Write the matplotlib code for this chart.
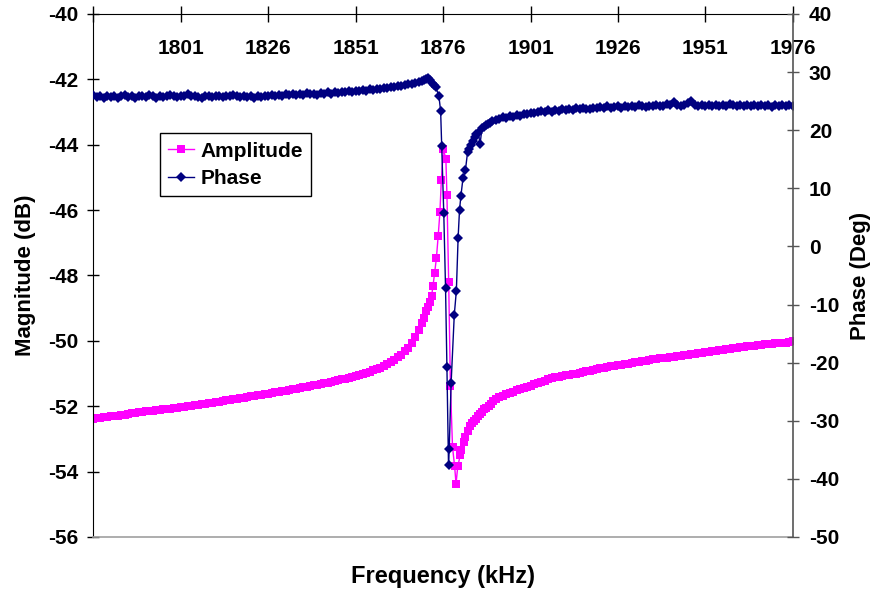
import numpy as np
import matplotlib
matplotlib.use('Agg')
import matplotlib.pyplot as plt

plt.rcParams['font.family'] = ['Liberation Sans', 'DejaVu Sans']
plt.rcParams['font.weight'] = 'bold'
plt.rcParams['axes.unicode_minus'] = False

# Frequency grid (kHz): 1 kHz steps away from resonance, measured points near it
freq_low = np.arange(1776, 1870)
freq_high = np.arange(1891, 1977)

amp_freq_res = [1870, 1870.6, 1871.2, 1871.7, 1872.2, 1872.7, 1873.1, 1873.6, 1874.1, 1874.6,
                1875.1, 1875.5, 1876.1, 1876.8, 1877.1, 1877.6, 1878.1, 1878.7, 1879.3, 1879.7,
                1880.2, 1880.9, 1881.2, 1881.9, 1882.4, 1883.0, 1883.6, 1884.2, 1884.8, 1885.4,
                1886.0, 1886.6, 1887.2, 1887.8, 1888.4, 1889.0, 1889.6, 1890.2]
phase_freq_res = [1870, 1870.6, 1871.2, 1871.8, 1872.3, 1872.8, 1873.3, 1873.9, 1874.8, 1875.3,
                  1875.6, 1876.2, 1876.7, 1877.1, 1877.55, 1877.75, 1878.3, 1879.2, 1879.8, 1880.3,
                  1880.7, 1881.1, 1881.7, 1882.4, 1883.0, 1883.5, 1884.0, 1884.5, 1885.0, 1885.5,
                  1886.0, 1886.6, 1887.1, 1887.6, 1888.2, 1888.8, 1889.4, 1890.0]

# Magnitude (dB)
amp_low = [-52.38, -52.36, -52.35, -52.34, -52.33, -52.31, -52.31, -52.29, -52.27, -52.26,
           -52.25, -52.22, -52.21, -52.19, -52.18, -52.16, -52.15, -52.14, -52.12, -52.11,
           -52.09, -52.08, -52.07, -52.05, -52.04, -52.02, -52.01, -52.00, -51.98, -51.97,
           -51.95, -51.94, -51.92, -51.90, -51.89, -51.87, -51.86, -51.84, -51.82, -51.81,
           -51.79, -51.77, -51.75, -51.74, -51.72, -51.70, -51.69, -51.67, -51.65, -51.63,
           -51.62, -51.60, -51.58, -51.56, -51.54, -51.52, -51.50, -51.48, -51.46, -51.44,
           -51.42, -51.40, -51.38, -51.36, -51.34, -51.32, -51.30, -51.28, -51.25, -51.23,
           -51.21, -51.18, -51.16, -51.13, -51.10, -51.07, -51.04, -51.01, -50.98, -50.94,
           -50.90, -50.86, -50.82, -50.77, -50.72, -50.66, -50.60, -50.50, -50.42, -50.32,
           -50.21, -50.06, -49.89, -49.68]
amp_res = [-49.45, -49.30, -49.10, -48.95, -48.80, -48.64, -48.33, -47.91, -47.46, -46.79,
           -46.06, -45.08, -44.14, -44.44, -45.53, -48.20, -51.37, -53.25, -53.84, -54.37,
           -53.84, -53.50, -53.33, -53.10, -52.93, -52.75, -52.62, -52.52, -52.45, -52.38,
           -52.31, -52.24, -52.17, -52.10, -52.04, -51.98, -51.92, -51.84]
amp_high = [-51.77, -51.72, -51.68, -51.64, -51.60, -51.55, -51.51, -51.47, -51.43, -51.40,
            -51.37, -51.33, -51.30, -51.26, -51.22, -51.18, -51.14, -51.12, -51.10, -51.08,
            -51.06, -51.04, -51.02, -51.00, -50.97, -50.95, -50.93, -50.91, -50.89, -50.86,
            -50.83, -50.82, -50.80, -50.78, -50.76, -50.75, -50.73, -50.71, -50.70, -50.68,
            -50.66, -50.64, -50.63, -50.61, -50.59, -50.57, -50.56, -50.54, -50.53, -50.51,
            -50.50, -50.48, -50.47, -50.45, -50.44, -50.42, -50.41, -50.40, -50.38, -50.37,
            -50.35, -50.34, -50.32, -50.31, -50.29, -50.28, -50.26, -50.25, -50.23, -50.22,
            -50.20, -50.19, -50.17, -50.16, -50.15, -50.14, -50.12, -50.11, -50.10, -50.09,
            -50.08, -50.08, -50.07, -50.06, -50.04, -50.00]

# Phase (deg)
phase_low = [26.0, 25.7, 25.8, 25.6, 25.9, 25.7, 25.8, 25.6, 25.8, 26.0,
             25.7, 25.9, 25.6, 25.8, 25.9, 25.7, 26.0, 25.8, 25.6, 25.9,
             25.7, 25.8, 26.1, 25.8, 25.7, 25.9, 25.8, 26.2, 25.8, 25.9,
             25.7, 25.5, 25.8, 25.9, 25.7, 25.9, 25.8, 25.7, 25.9, 25.8,
             26.0, 25.8, 25.7, 25.9, 25.7, 25.8, 25.6, 25.8, 25.7, 25.9,
             25.8, 26.0, 25.9, 26.1, 25.9, 26.2, 26.0, 26.2, 26.1, 26.3,
             26.1, 26.4, 26.2, 26.3, 26.1, 26.4, 26.3, 26.5, 26.3, 26.6,
             26.4, 26.6, 26.5, 26.7, 26.6, 26.8, 26.7, 26.9, 26.8, 27.0,
             26.9, 27.1, 27.0, 27.3, 27.2, 27.4, 27.5, 27.6, 27.6, 27.8,
             27.9, 28.0, 28.1, 28.3]
phase_res = [28.4, 28.6, 28.8, 28.9, 28.6, 28.1, 27.8, 27.4, 25.9, 23.3,
             17.3, 5.7, -7.1, -20.8, -37.6, -34.9, -23.5, -11.8, -7.6, 1.5,
             6.3, 8.7, 11.8, 13.2, 16.2, 16.8, 17.5, 18.2, 18.8, 19.3,
             19.6, 17.7, 20.3, 20.6, 20.9, 21.1, 21.3, 21.5]
phase_high = [21.7, 21.9, 22.2, 22.1, 22.4, 22.3, 22.6, 22.5, 22.8, 22.7,
              23.0, 22.9, 23.2, 23.3, 23.1, 23.4, 23.2, 23.5, 23.3, 23.6,
              23.4, 23.7, 23.5, 23.8, 23.6, 23.9, 23.7, 23.6, 23.9, 23.8,
              24.0, 23.8, 24.1, 23.9, 24.0, 24.2, 23.9, 24.1, 24.0, 24.2,
              24.0, 24.3, 24.1, 24.0, 24.2, 24.1, 24.3, 24.1, 24.2, 24.5,
              24.4, 24.9, 24.3, 24.2, 24.4, 24.6, 25.0, 24.3, 24.1, 24.3,
              24.2, 24.4, 24.1, 24.3, 24.2, 24.4, 24.2, 24.5, 24.3, 24.1,
              24.3, 24.2, 24.4, 24.1, 24.3, 24.2, 24.4, 24.1, 24.3, 24.0,
              24.3, 24.2, 24.4, 24.1, 24.3, 24.2]

freq_ticks = [1776, 1801, 1826, 1851, 1876, 1901, 1926, 1951, 1976]
freq_tick_labels = ['', '1801', '1826', '1851', '1876', '1901', '1926', '1951', '1976']
mag_ticks = [-40, -42, -44, -46, -48, -50, -52, -54, -56]
phase_ticks = [40, 30, 20, 10, 0, -10, -20, -30, -40, -50]

amp_freq = np.concatenate([freq_low, amp_freq_res, freq_high])
amp = np.concatenate([amp_low, amp_res, amp_high])
phase_freq = np.concatenate([freq_low, phase_freq_res, freq_high])
phase = np.concatenate([phase_low, phase_res, phase_high])

fig = plt.figure(figsize=(8.8, 5.91), dpi=100)
ax = fig.add_axes([0.106, 0.0914, 0.795, 0.885])
ax2 = ax.twinx()

l1, = ax.plot(amp_freq, amp, color='#FF00FF', lw=1, marker='s', markersize=5.8,
              markeredgewidth=0, label='Amplitude')
l2, = ax2.plot(phase_freq, phase, color='#000080', lw=1, marker='D', markersize=5,
               markeredgewidth=0, label='Phase')

ax.set_xlim(1776, 1976)
ax.set_ylim(-56, -40)
ax2.set_ylim(-50, 40)

ax.set_xticks(freq_ticks, labels=freq_tick_labels)
ax.set_yticks(mag_ticks)
ax2.set_yticks(phase_ticks)

ax.xaxis.set_ticks_position('top')
ax.xaxis.set_label_position('bottom')
ax.tick_params(axis='x', direction='inout', length=11, width=1, pad=-37.5,
               labelsize=15, colors='black')
ax.tick_params(axis='y', direction='inout', length=9, width=1, pad=6, labelsize=15)
ax2.tick_params(axis='y', direction='inout', length=9, width=1, pad=7, labelsize=15,
                color='#555555')

for lab in ax.get_xticklabels() + ax.get_yticklabels() + ax2.get_yticklabels():
    lab.set_fontweight('bold')

ax.spines['right'].set_visible(False)
ax.spines['bottom'].set_color('#a0a0a0')
ax.spines['bottom'].set_linewidth(1.2)
for s in ['top', 'bottom', 'left']:
    ax2.spines[s].set_visible(False)
ax2.spines['right'].set_color('#555555')
ax2.spines['right'].set_linewidth(1.2)

ax.set_xlabel('Frequency (kHz)', fontsize=17, fontweight='bold', labelpad=20)
ax.set_ylabel('Magnitude (dB)', fontsize=16, fontweight='bold', labelpad=9)
ax2.set_ylabel('Phase (Deg)', fontsize=16, fontweight='bold', labelpad=8)

leg = ax2.legend([l1, l2], ['Amplitude', 'Phase'], loc='upper left',
                 bbox_to_anchor=(0.095, 0.772), fancybox=False, framealpha=1,
                 edgecolor='black', prop={'size': 15, 'weight': 'bold'},
                 handlelength=1.25, handletextpad=0.3, borderpad=0.4,
                 labelspacing=0.4, borderaxespad=0)
leg.get_frame().set_linewidth(1)

fig.savefig('out.png', dpi=100)
